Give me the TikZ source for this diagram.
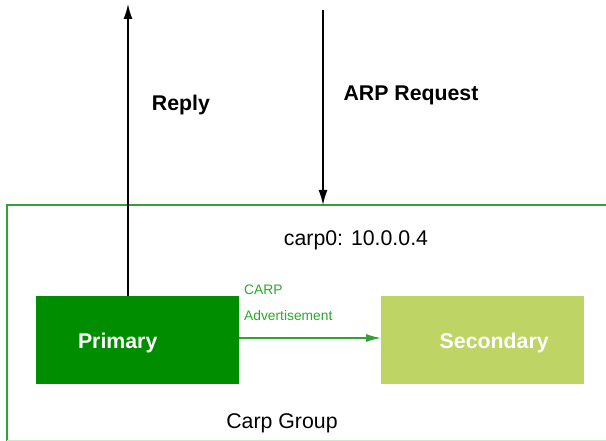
\documentclass[tikz,border=0pt]{standalone}
\usepackage{fontspec}
\setmainfont{Liberation Sans}
\usetikzlibrary{arrows.meta,calc}
\definecolor{primgreen}{HTML}{008E00}
\definecolor{secgreen}{HTML}{BED464}
\definecolor{linegreen}{HTML}{35A035}
\definecolor{textgreen}{HTML}{2CA82C}
\tikzset{
  bigtext/.style={font=\fontsize{21.3}{25}\selectfont},
  smalltext/.style={font=\fontsize{13.8}{16}\selectfont, text=textgreen},
  box/.style={minimum width=203pt, minimum height=88pt, inner sep=0pt},
  boxlabel/.style={text=white, font=\fontsize{21.3}{25}\selectfont\bfseries, inner sep=0pt},
  blackarrow/.style={line width=1.5pt, -{Latex[length=15pt,width=9pt]}},
  greenarrow/.style={line width=1.3pt, draw=linegreen, -{Latex[length=15pt,width=8pt]}},
}
\begin{document}
\begin{tikzpicture}[x=1pt,y=-1pt]
\useasboundingbox (0,0) rectangle (606,441);
\draw[linegreen, line width=1.5pt] (7,441) -- (7,205) -- (620,205);
\draw[linegreen!25, line width=1pt] (7,440.5) -- (620,440.5);
\coordinate (grouptop) at (323,205);
\node[box, fill=primgreen, anchor=north west,
  label={[boxlabel, xshift=-20pt, yshift=-3pt]center:Primary}] (prim) at (36,296) {};
\node[box, fill=secgreen, anchor=north west,
  label={[boxlabel, xshift=11.5pt, yshift=-3pt]center:Secondary}] (sec) at (381,296) {};
\coordinate (replytop) at (128,4);
\coordinate (arptop) at (323,10);
\draw[blackarrow] (replytop |- prim.north) -- (replytop);
\draw[blackarrow] (arptop) -- (grouptop);
\draw[greenarrow] (prim.east |- 0,338) -- (sec.west |- 0,338);
\node[bigtext, font=\fontsize{21.3}{25}\selectfont\bfseries] (reply) at (181,105) {Reply};
\node[bigtext, font=\fontsize{21.3}{25}\selectfont\bfseries] (arp) at (411,95) {ARP Request};
\node[bigtext] (carp0) at (356,240) {carp0: 10.0.0.4};
\node[smalltext, anchor=west, inner sep=0pt] (carp) at (244,290) {CARP};
\node[smalltext, anchor=west, inner sep=0pt] (adv) at (244,316) {Advertisement};
\node[bigtext] (group) at (282,423) {Carp Group};
\end{tikzpicture}
\end{document}
